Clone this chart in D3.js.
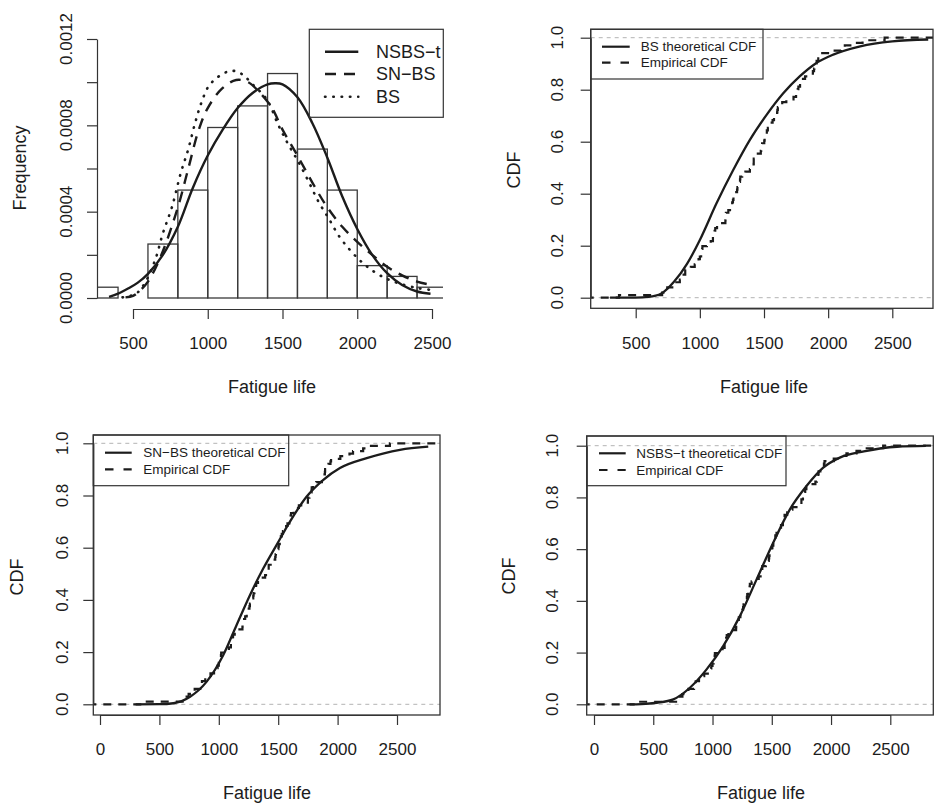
<!DOCTYPE html>
<html><head><meta charset="utf-8">
<script src="https://cdn.jsdelivr.net/npm/d3@7"></script>
<style>
body{margin:0;background:#fff}
svg{display:block;font-family:"Liberation Sans",Arial,Helvetica,sans-serif}
</style>
</head><body>
<svg id="chart" width="934" height="803"></svg>
<script>
// ---------------- DATA ----------------
// Fatigue life observations (empirical CDF / histogram)
const fatigueLife = [370,706,716,746,785,797,844,855,858,886,886,930,960,988,990,1000,1010,1016,1018,1020,1055,1085,1102,1102,1108,1115,1120,1134,1140,1199,1200,1200,1203,1222,1235,1238,1252,1258,1262,1269,1270,1290,1293,1300,1310,1313,1315,1330,1355,1390,1416,1419,1420,1420,1450,1452,1475,1478,1481,1485,1502,1505,1513,1522,1522,1530,1540,1560,1567,1578,1594,1602,1604,1608,1630,1642,1674,1730,1750,1750,1763,1768,1781,1782,1792,1820,1868,1881,1890,1893,1895,1910,1923,1940,1945,2023,2100,2130,2215,2268,2440];

// Histogram
const binEdges = [200,400,600,800,1000,1200,1400,1600,1800,2000,2200,2400,2600];
const histDensity = [0.00005,0,0.00025,0.0005,0.00079,0.00089,0.00104,0.00069,0.0005,0.00015,0.0001,0.00005];

// Fitted densities [fatigue life, density]
const pdfNSBSt = [[340,0.000005],[400,0.00002],[470,0.000045],[530,0.00007],[600,0.000112],[700,0.0002],[800,0.00033],[900,0.00051],[1000,0.00066],[1100,0.00078],[1200,0.00088],[1300,0.00095],[1400,0.00099],[1450,0.000995],[1500,0.00099],[1600,0.00093],[1700,0.00081],[1800,0.00065],[1900,0.00047],[2000,0.00032],[2100,0.0002],[2200,0.000115],[2300,0.00006],[2400,0.00003],[2490,0.00002]];
const pdfSNBS = [[450,0.000003],[500,0.00001],[540,0.00003],[600,0.000076],[690,0.0002],[800,0.00042],[870,0.0006],[940,0.00078],[1000,0.00088],[1095,0.00097],[1190,0.00101],[1270,0.001],[1350,0.00095],[1430,0.00088],[1500,0.00078],[1600,0.00066],[1720,0.00051],[1800,0.00042],[1900,0.00033],[2000,0.00026],[2100,0.0002],[2200,0.000145],[2300,0.000105],[2400,0.000076],[2500,0.00006]];
const pdfBS = [[430,0.000003],[520,0.00002],[580,0.00007],[650,0.00018],[700,0.0003],[760,0.00042],[820,0.00058],[870,0.00069],[915,0.00081],[960,0.00091],[1005,0.00098],[1070,0.001025],[1140,0.00105],[1195,0.00105],[1250,0.001025],[1300,0.00099],[1395,0.00092],[1473,0.0008],[1540,0.00071],[1607,0.00063],[1674,0.00054],[1741,0.000446],[1808,0.00037],[1875,0.00029],[1942,0.00023],[2009,0.00018],[2076,0.00014],[2165,0.0001],[2277,0.000068],[2411,0.000045],[2500,0.000037]];

// Fitted CDFs [fatigue life, probability]
const cdfBS = [[300,0],[500,0.0005],[600,0.003],[700,0.016],[800,0.062],[900,0.13],[1000,0.222],[1130,0.363],[1260,0.491],[1390,0.607],[1520,0.703],[1650,0.786],[1780,0.852],[1900,0.9],[2040,0.935],[2250,0.967],[2500,0.986],[2780,0.993]];
const cdfSNBS = [[300,0],[500,0.0005],[617,0.004],[758,0.029],[898,0.087],[1038,0.189],[1150,0.304],[1263,0.419],[1375,0.521],[1487,0.611],[1599,0.7],[1740,0.796],[1880,0.86],[2020,0.905],[2245,0.943],[2525,0.975],[2763,0.987]];
const cdfNSBSt = [[300,0],[400,0.001],[530,0.006],[669,0.019],[809,0.064],[950,0.135],[1090,0.225],[1231,0.341],[1372,0.483],[1512,0.625],[1653,0.754],[1793,0.844],[1934,0.915],[2074,0.954],[2277,0.978],[2557,0.996],[2800,0.999]];

// Ticks and labels
const xTicksTop = [500,1000,1500,2000,2500];
const xTicksBottom = [0,500,1000,1500,2000,2500];
const yTicksFreq = [0,0.0002,0.0004,0.0006,0.0008,0.001,0.0012];
const yLabelsFreq = [0,0.0004,0.0008,0.0012];
const yTicksCDF = [0,0.2,0.4,0.6,0.8,1];
const pdfLegend = ["NSBS\u2212t","SN\u2212BS","BS"];
const cdfLegendTR = ["BS theoretical CDF","Empirical CDF"];
const cdfLegendBL = ["SN\u2212BS theoretical CDF","Empirical CDF"];
const cdfLegendBR = ["NSBS\u2212t theoretical CDF","Empirical CDF"];
const xTitle = "Fatigue life", yTitleFreq = "Frequency", yTitleCDF = "CDF";

// ---------------- DRAWING ----------------
const svg = d3.select("#chart");
svg.append("rect").attr("width",934).attr("height",803).attr("fill","#fff");
const ink = "#1c1c1c", axisCol = "#333", gray01 = "#b3b3b3";
const FT = 17, FTITLE = 18;

function clip(id, r){
  svg.append("clipPath").attr("id",id).append("rect")
    .attr("x",r[0]).attr("y",r[1]).attr("width",r[2]-r[0]).attr("height",r[3]-r[1]);
}
function styleAxis(g){
  g.attr("font-family",null).attr("font-size",null);
  g.selectAll("path,line").attr("stroke",axisCol).attr("stroke-width",1.2);
  g.selectAll("text").attr("font-size",FT).attr("fill",ink);
}
function xAxis(xs, ticks, y0, pad){
  svg.append("g").attr("transform",`translate(0,${y0})`)
    .call(d3.axisBottom(xs).tickValues(ticks).tickSize(10).tickSizeOuter(0).tickPadding(pad).tickFormat(d3.format("d")))
    .call(styleAxis);
}
function yAxis(ys, ticks, labels, fmt, x0, labelX){
  svg.append("g").attr("transform",`translate(${x0},0)`)
    .call(d3.axisLeft(ys).tickValues(ticks).tickSize(10).tickSizeOuter(0).tickFormat(""))
    .call(styleAxis);
  svg.append("g").selectAll("text").data(labels).join("text")
    .attr("transform",d=>`translate(${labelX},${ys(d)}) rotate(-90)`)
    .attr("text-anchor","middle").attr("dy","0.35em")
    .attr("font-size",FT).attr("fill",ink).text(fmt);
}
function titles(xt, yt){
  svg.append("text").attr("x",xt[0]).attr("y",xt[1]).attr("dy","0.35em").attr("text-anchor","middle")
    .attr("font-size",FTITLE).attr("fill",ink).text(xTitle);
  svg.append("text").attr("transform",`translate(${yt[0]},${yt[1]}) rotate(-90)`).attr("dy","0.35em")
    .attr("text-anchor","middle").attr("font-size",FTITLE).attr("fill",ink).text(yt[2]);
}

// ===== Panel 1: histogram + densities =====
{
  const x = d3.scaleLinear().domain([500,2500]).range([133,432]);
  const y = d3.scaleLinear().domain([0,0.0012]).range([298,39]);
  const region = [97,28.6,443,309];
  clip("c1", region);
  const gp = svg.append("g").attr("clip-path","url(#c1)");
  gp.selectAll("rect.bar").data(histDensity).join("rect").attr("class","bar")
    .attr("x",(d,i)=>x(binEdges[i])).attr("width",(d,i)=>x(binEdges[i+1])-x(binEdges[i]))
    .attr("y",d=>y(d)).attr("height",d=>y(0)-y(d))
    .attr("fill","none").attr("stroke","#3a3a3a").attr("stroke-width",1.3);
  const line = d3.line().x(d=>x(d[0])).y(d=>y(d[1])).curve(d3.curveCatmullRom.alpha(0.5));
  gp.append("path").attr("d",line(pdfBS)).attr("fill","none").attr("stroke",ink)
    .attr("stroke-width",2.6).attr("stroke-dasharray","0.5,7.8").attr("stroke-linecap","round");
  gp.append("path").attr("d",line(pdfSNBS)).attr("fill","none").attr("stroke",ink)
    .attr("stroke-width",2.4).attr("stroke-dasharray","11,8");
  gp.append("path").attr("d",line(pdfNSBSt)).attr("fill","none").attr("stroke",ink)
    .attr("stroke-width",2.4);
  xAxis(x, xTicksTop, 309, 18);
  yAxis(y, yTicksFreq, yLabelsFreq, d3.format(".4f"), 97, 66);
  titles([272,387],[20,168,yTitleFreq]);
  // legend
  const lg = svg.append("g");
  lg.append("rect").attr("x",309.3).attr("y",29.3).attr("width",134).attr("height",88)
    .attr("fill","none").attr("stroke",axisCol).attr("stroke-width",1.2);
  const ly = [51.7,74,96.7];
  const dashes = [null,"11,8","0.5,7.8"];
  pdfLegend.forEach((t,i)=>{
    lg.append("line").attr("x1",325).attr("x2",358.3).attr("y1",ly[i]).attr("y2",ly[i])
      .attr("stroke",ink).attr("stroke-width",i==2?2.6:2.4).attr("stroke-dasharray",dashes[i])
      .attr("stroke-linecap",i==2?"round":"butt");
    lg.append("text").attr("x",376).attr("y",ly[i]).attr("dy","0.35em").attr("font-size",18)
      .attr("fill",ink).text(t);
  });
}

// ===== CDF panels =====
function cdfPanel(cfg){
  const x = d3.scaleLinear().domain([cfg.xTicks[0],2500]).range(cfg.xr);
  const y = d3.scaleLinear().domain([0,1]).range(cfg.yr);
  const b = cfg.box;
  clip(cfg.id, b);
  const gp = svg.append("g").attr("clip-path",`url(#${cfg.id})`);
  [0,1].forEach(v=>{
    gp.append("line").attr("x1",b[0]).attr("x2",b[2]).attr("y1",y(v)).attr("y2",y(v))
      .attr("stroke",gray01).attr("stroke-width",1).attr("stroke-dasharray","4,4");
  });
  const n = fatigueLife.length;
  const sorted = fatigueLife.slice().sort((a,c)=>a-c);
  const pts = [[x.invert(b[0]-5),0]].concat(sorted.map((v,i)=>[v,(i+1)/n])).concat([[x.invert(b[2]+5),1]]);
  const step = d3.line().x(d=>x(d[0])).y(d=>y(d[1])).curve(d3.curveStepAfter);
  gp.append("path").attr("d",step(pts)).attr("fill","none").attr("stroke",ink)
    .attr("stroke-width",2.2).attr("stroke-dasharray","8,7");
  const line = d3.line().x(d=>x(d[0])).y(d=>y(d[1])).curve(d3.curveMonotoneX);
  gp.append("path").attr("d",line(cfg.cdf)).attr("fill","none").attr("stroke",ink).attr("stroke-width",2.3);
  svg.append("rect").attr("x",b[0]).attr("y",b[1]).attr("width",b[2]-b[0]).attr("height",b[3]-b[1])
    .attr("fill","none").attr("stroke",axisCol).attr("stroke-width",1.3);
  xAxis(x, cfg.xTicks, b[3], cfg.pad);
  yAxis(y, yTicksCDF, yTicksCDF, d3.format(".1f"), b[0], cfg.ylabX);
  titles(cfg.xt, cfg.yt);
  const L = cfg.leg;
  const lg = svg.append("g");
  lg.append("rect").attr("x",b[0]).attr("y",b[1]).attr("width",L.w).attr("height",L.h)
    .attr("fill","none").attr("stroke",axisCol).attr("stroke-width",1.2);
  cfg.legend.forEach((t,i)=>{
    lg.append("line").attr("x1",L.lx[0]).attr("x2",L.lx[1]).attr("y1",L.ly[i]).attr("y2",L.ly[i])
      .attr("stroke",ink).attr("stroke-width",2.2).attr("stroke-dasharray",i==1?"8.5,10":null);
    lg.append("text").attr("x",L.tx).attr("y",L.ly[i]).attr("dy","0.35em").attr("font-size",13.5)
      .attr("fill",ink).text(t);
  });
}

cdfPanel({id:"c2", xTicks:xTicksTop, xr:[635.7,892.3], yr:[297.7,37.7], box:[590.7,29.3,933,308.3],
  pad:18.6, ylabX:557, xt:[764,387], yt:[514,170,yTitleCDF], cdf:cdfBS, legend:cdfLegendTR,
  leg:{w:172.3,h:49.7,lx:[602,629.7],ly:[46.7,62.7],tx:640.7}});
cdfPanel({id:"c3", xTicks:xTicksBottom, xr:[100,397], yr:[704.3,443.3], box:[93.3,435,440,715],
  pad:18.2, ylabX:61.7, xt:[267,793], yt:[17,577,yTitleCDF], cdf:cdfSNBS, legend:cdfLegendBL,
  leg:{w:195.4,h:50.7,lx:[105,131.7],ly:[452.7,469.3],tx:143.3}});
cdfPanel({id:"c4", xTicks:xTicksBottom, xr:[594,890.3], yr:[704.3,445.7], box:[586.7,436,933.3,715],
  pad:18.2, ylabX:552, xt:[761,793], yt:[509,576,yTitleCDF], cdf:cdfNSBSt, legend:cdfLegendBR,
  leg:{w:199.3,h:49.7,lx:[599,625.7],ly:[453.3,470],tx:636.3}});
</script>
</body></html>
